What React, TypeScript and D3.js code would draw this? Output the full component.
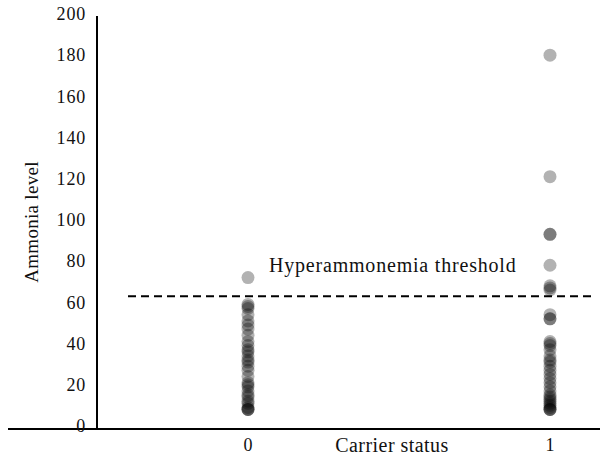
import React from "react";
import * as d3 from "d3";

const categories = ["0", "1"];
const yTicks = [0, 20, 40, 60, 80, 100, 120, 140, 160, 180, 200];
const carrier0 = [73, 60, 59, 58, 55, 52, 50, 48, 45, 42, 40, 38, 37, 35, 33, 32, 30, 28, 25, 22, 21, 20, 18, 16, 15, 13, 12, 10, 9, 9, 9];
const carrier1 = [181, 122, 94, 94, 79, 69, 68, 67, 55, 53, 53, 42, 41, 40, 38, 35, 33, 32, 30, 28, 26, 24, 22, 20, 18, 16, 15, 14, 13, 12, 11, 10, 9, 9, 9];
const threshold = 64;
const thresholdLabel = "Hyperammonemia threshold";
const xTitle = "Carrier status";
const yTitle = "Ammonia level";

export default function App() {
  const W = 608, H = 460;
  const font = "'Liberation Serif', 'Times New Roman', Times, serif";
  const y = d3.scaleLinear().domain([0, 200]).range([428, 16]);
  const x = d3.scalePoint().domain(categories).range([248, 550]);
  const axisY = 429;
  const series = [carrier0, carrier1];
  return (
    <svg width={W} height={H} style={{ position: "absolute", left: 0, top: 0 }}>
      <rect width={W} height={H} fill="#fff" />
      {series.map((vals, i) =>
        vals.map((v, j) => (
          <circle key={`${i}-${j}`} cx={x(categories[i])!} cy={y(v)} r={6.5} fill="#000" fillOpacity={0.3} />
        ))
      )}
      <line x1={128} x2={592} y1={y(threshold)} y2={y(threshold)} stroke="#000" strokeWidth={2} strokeDasharray="8,5" />
      <text x={269} y={y(threshold) - 29} fontFamily={font} fontSize={20} letterSpacing={0.8} fill="#111" dominantBaseline="middle">{thresholdLabel}</text>
      <line x1={97} x2={97} y1={16} y2={axisY} stroke="#000" strokeWidth={2} />
      <line x1={8} x2={600} y1={axisY} y2={axisY} stroke="#000" strokeWidth={2} />
      {yTicks.map((t) => (
        <text key={t} x={86} y={y(t)} textAnchor="end" dominantBaseline="middle" fontFamily={font} fontSize={18} letterSpacing={0.8} fill="#111">{t}</text>
      ))}
      {categories.map((c) => (
        <text key={c} x={x(c)!} y={447} textAnchor="middle" dominantBaseline="middle" fontFamily={font} fontSize={18} fill="#111">{c}</text>
      ))}
      <text x={392} y={447} textAnchor="middle" dominantBaseline="middle" fontFamily={font} fontSize={20} letterSpacing={0.45} fill="#111">{xTitle}</text>
      <text transform={`translate(34,${222}) rotate(-90)`} textAnchor="middle" dominantBaseline="middle" fontFamily={font} fontSize={19} letterSpacing={0.3} fill="#111">{yTitle}</text>
    </svg>
  );
}
